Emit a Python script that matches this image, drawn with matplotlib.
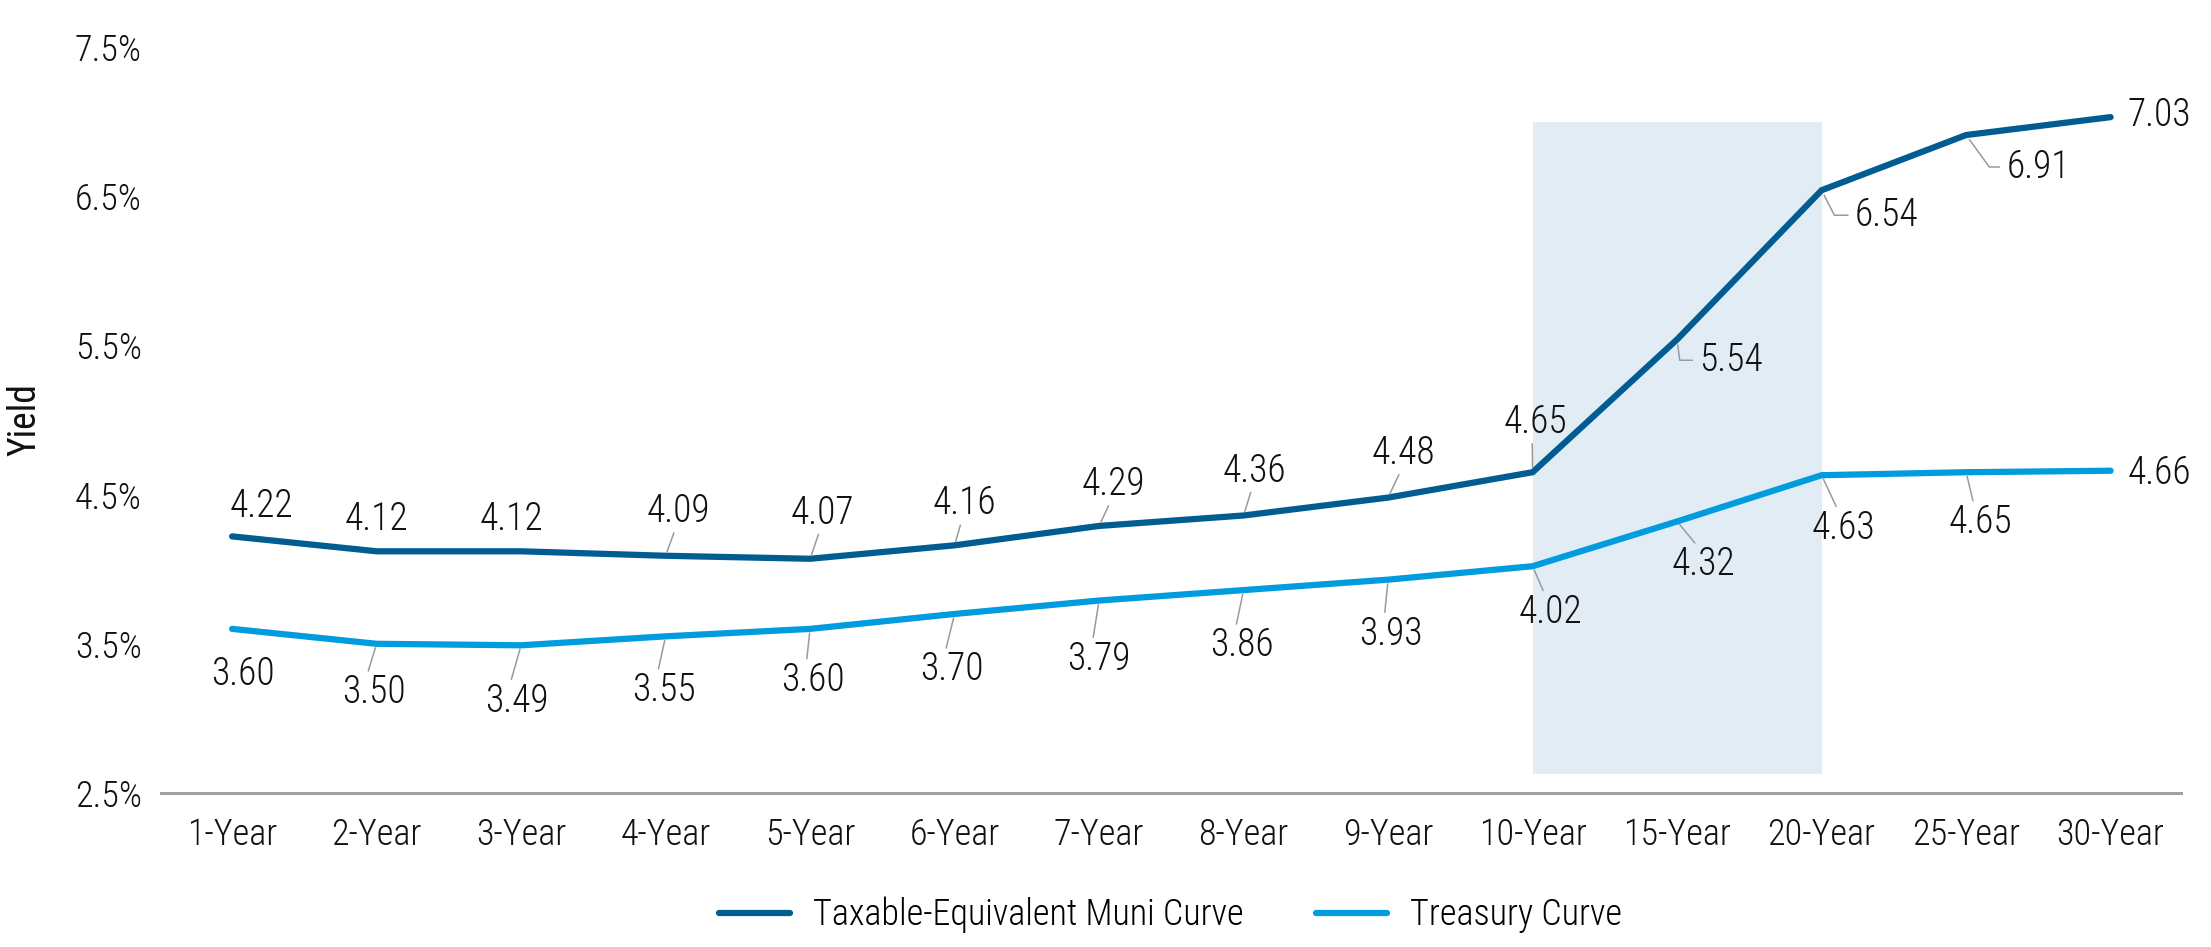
import matplotlib
matplotlib.use("Agg")
import matplotlib.pyplot as plt
from matplotlib.lines import Line2D

# ---------------- data ----------------
categories = ["1-Year", "2-Year", "3-Year", "4-Year", "5-Year", "6-Year", "7-Year",
              "8-Year", "9-Year", "10-Year", "15-Year", "20-Year", "25-Year", "30-Year"]
muni = [4.22, 4.12, 4.12, 4.09, 4.07, 4.16, 4.29, 4.36, 4.48, 4.65, 5.54, 6.54, 6.91, 7.03]
treasury = [3.60, 3.50, 3.49, 3.55, 3.60, 3.70, 3.79, 3.86, 3.93, 4.02, 4.32, 4.63, 4.65, 4.66]
yticks = [2.5, 3.5, 4.5, 5.5, 6.5, 7.5]
ytick_labels = ["2.5%", "3.5%", "4.5%", "5.5%", "6.5%", "7.5%"]
shade_from, shade_to = "10-Year", "20-Year"
shade_low, shade_high = 2.63, 7.0
series_names = ["Taxable-Equivalent Muni Curve", "Treasury Curve"]

# ---------------- layout (label placement, points) ----------------
# kind: 'c' centred label, 'e' elbow leader, 'r' right of point; last: leader flag / elbow angle
muni_layout = [("c", 21, 22, False), ("c", 0, 23, False), ("c", -7, 23, False),
               ("c", 9, 32, True), ("c", 9, 33, True), ("c", 7, 30, True),
               ("c", 10, 30, True), ("c", 8, 32, True), ("c", 11, 32, True),
               ("c", 2, 36, True), ("e", 16, -15, -83), ("e", 24, -18, -63),
               ("e", 29, -23, -54), ("r", 12, 1, False)]
tsy_layout = [("c", 8, -33, False), ("c", -2, -35, True), ("c", -3, -40, True),
              ("c", -1, -39, True), ("c", 2, -37, True), ("c", -2, -40, True),
              ("c", 0, -42, True), ("c", -1, -40, True), ("c", 2, -39, True),
              ("c", 13, -33, True), ("c", 19, -31, True), ("c", 16, -38, True),
              ("c", 10, -36, True), ("r", 12, -2, False)]

FONT = ["Roboto Condensed", "Roboto", "DejaVu Sans"]
plt.rcParams["font.family"] = FONT
FS = 26
FS_DATA = 27
MUNI_C = "#015C92"
TSY_C = "#009CDE"
LEAD_C = "#9A9A9A"
TXT_C = "#111111"

fig = plt.figure(figsize=(22.11, 9.47), dpi=100)
AX_L, AX_R, AX_B, AX_T = 160.7 / 2211, 2180.7 / 2211, 1 - 793 / 947, 1 - 47 / 947
ax = fig.add_axes([AX_L, AX_B, AX_R - AX_L, AX_T - AX_B])

x = list(range(len(categories)))
i0, i1 = categories.index(shade_from), categories.index(shade_to)
ax.fill_between([x[i0], x[i1]], shade_low, shade_high, color="#E2ECF5", lw=0, zorder=0)

ax.plot(x, muni, color=MUNI_C, lw=4.5, solid_capstyle="round", solid_joinstyle="miter",
        zorder=3)
ax.plot(x, treasury, color=TSY_C, lw=4.5, solid_capstyle="round", solid_joinstyle="miter",
        zorder=3)


def put_labels(vals, layout, above):
    for xi, v, (kind, dx, dy, extra) in zip(x, vals, layout):
        txt = f"{v:.2f}"
        kw = dict(xy=(xi, v), textcoords="offset points", fontsize=FS_DATA,
                  fontweight="light", color=TXT_C, zorder=5, annotation_clip=False)
        if kind == "c":
            ap = None
            if extra:
                ap = dict(arrowstyle="-", color=LEAD_C, lw=1.1, shrinkA=0, shrinkB=3,
                          relpos=(0.45, 0.0) if above else (0.4, 1.0))
            ax.annotate(txt, xytext=(dx, dy), ha="center", va="center",
                        arrowprops=ap, **kw)
        elif kind == "e":
            ap = dict(arrowstyle="-", color=LEAD_C, lw=1.1, shrinkA=3, shrinkB=4,
                      relpos=(0.0, 0.5),
                      connectionstyle=f"angle,angleA=0,angleB={extra},rad=0")
            ax.annotate(txt, xytext=(dx, dy), ha="left", va="center",
                        arrowprops=ap, **kw)
        else:
            ax.annotate(txt, xytext=(dx, dy), ha="left", va="center", **kw)


put_labels(muni, muni_layout, True)
put_labels(treasury, tsy_layout, False)

ax.set_xlim(-0.494, 13.485)
ax.set_ylim(2.5, 7.5)
ax.set_xticks(x)
ax.set_xticklabels(categories, fontsize=FS, fontweight="light", color=TXT_C)
ax.set_yticks(yticks)
ax.set_yticklabels(ytick_labels, fontsize=FS, fontweight="light", color=TXT_C)
ax.tick_params(axis="both", length=0)
ax.tick_params(axis="y", pad=13.5)
ax.tick_params(axis="x", pad=17)
for s in ["top", "right", "left"]:
    ax.spines[s].set_visible(False)
ax.spines["bottom"].set_color("#A0A0A0")
ax.spines["bottom"].set_linewidth(2.2)
ax.spines["bottom"].set_zorder(4)

fig.text(25 / 2211, 1 - 420 / 947, "Yield", rotation=90, ha="center", va="center",
         fontsize=FS + 1, color=TXT_C)

handles = [Line2D([], [], color=MUNI_C, lw=4.5, solid_capstyle="round"),
           Line2D([], [], color=TSY_C, lw=4.5, solid_capstyle="round")]
fig.legend(handles, series_names, loc="center", ncol=2,
           bbox_to_anchor=((AX_L + AX_R) / 2, 1 - 915 / 947),
           frameon=False, handlelength=1.96, handletextpad=0.65, columnspacing=2.0,
           prop=dict(family=FONT, size=FS, weight="light"))

fig.savefig("out.png", dpi=100, facecolor="white")
